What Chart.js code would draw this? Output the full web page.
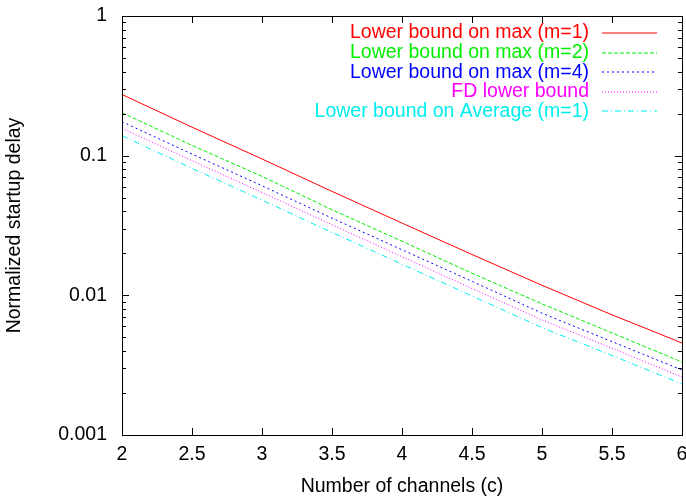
<!DOCTYPE html>
<html>
<head>
<meta charset="utf-8">
<script src="https://cdn.jsdelivr.net/npm/chart.js@4.4.1/dist/chart.umd.min.js"></script>
<style>
    body { margin: 0; background: #fff; }
    canvas { display: block; }
</style>
</head>
<body>
<canvas id="delayChart" width="686" height="498"></canvas>
<script>
// values (log scale)
var channels = [2, 2.5, 3, 3.5, 4, 4.5, 5, 5.5, 6];
var maxM1 = [0.274, 0.160, 0.0947, 0.0555, 0.0329, 0.0196, 0.0118, 0.00725, 0.00456];
var maxM2 = [0.203, 0.1185, 0.0711, 0.0410, 0.0244, 0.0144, 0.00869, 0.00538, 0.00333];
var maxM4 = [0.175, 0.1027, 0.0609, 0.0357, 0.0212, 0.0126, 0.00745, 0.00466, 0.00292];
var fdBound = [0.157, 0.0921, 0.0545, 0.0320, 0.0189, 0.0112, 0.00667, 0.00418, 0.00260];
var avgM1 = [0.139, 0.0811, 0.0481, 0.0282, 0.0167, 0.0099, 0.00587, 0.00371, 0.00232];

var seriesNames = [
    'Lower bound on max (m=1)',
    'Lower bound on max (m=2)',
    'Lower bound on max (m=4)',
    'FD lower bound',
    'Lower bound on Average (m=1)'
];
var seriesColors = ['#ff0000', '#00ee00', '#0000ff', '#ff00ff', '#00eeee'];
var seriesDashes = [[], [4, 2], [2, 3], [1, 2], [6, 3, 1, 3]];
var yTickValues = [0.001, 0.01, 0.1, 1];

var FONT = { family: '"Liberation Sans", Arial, sans-serif', size: 19.5 };

function toPoints(values) {
    return values.map(function (v, i) { return { x: channels[i], y: v }; });
}

var allSeries = [maxM1, maxM2, maxM4, fdBound, avgM1];
var datasets = allSeries.map(function (values, i) {
    return {
        label: seriesNames[i],
        data: toPoints(values),
        borderColor: seriesColors[i],
        backgroundColor: seriesColors[i],
        borderDash: seriesDashes[i],
        borderWidth: 1,
        pointRadius: 0,
        tension: 0,
        fill: false
    };
});

// gnuplot-like frame with inward ticks, and legend with text left of the sample line
var framePlugin = {
    id: 'frame',
    afterDraw: function (chart) {
        var ctx = chart.ctx;
        var area = chart.chartArea;
        var xs = chart.scales.x;
        var ys = chart.scales.y;
        ctx.save();
        ctx.strokeStyle = '#000';
        ctx.lineWidth = 1;
        ctx.setLineDash([]);
        ctx.strokeRect(Math.round(area.left) + 0.5, Math.round(area.top) + 0.5,
            Math.round(area.right - area.left), Math.round(area.bottom - area.top));

        ctx.beginPath();
        for (var c = 2; c <= 6; c += 0.5) {
            var px = Math.round(xs.getPixelForValue(c)) + 0.5;
            ctx.moveTo(px, area.bottom);
            ctx.lineTo(px, area.bottom - 7);
            ctx.moveTo(px, area.top);
            ctx.lineTo(px, area.top + 7);
        }
        for (var e = -3; e <= 0; e++) {
            for (var m = 1; m <= 9; m++) {
                var v = m * Math.pow(10, e);
                if (v > 1) break;
                var py = Math.round(ys.getPixelForValue(v)) + 0.5;
                var len = m === 1 ? 7 : 4;
                ctx.moveTo(area.left, py);
                ctx.lineTo(area.left + len, py);
                ctx.moveTo(area.right, py);
                ctx.lineTo(area.right - len, py);
            }
        }
        ctx.stroke();

        // legend
        ctx.font = FONT.size + 'px ' + FONT.family;
        ctx.textAlign = 'right';
        ctx.textBaseline = 'middle';
        chart.data.datasets.forEach(function (ds, i) {
            var y = 33 + i * 19.6;
            ctx.fillStyle = ds.borderColor;
            ctx.fillText(ds.label, 589, y);
            ctx.strokeStyle = ds.borderColor;
            ctx.lineWidth = 1.2;
            ctx.setLineDash(ds.borderDash);
            ctx.beginPath();
            ctx.moveTo(602, Math.round(y));
            ctx.lineTo(657, Math.round(y));
            ctx.stroke();
        });
        ctx.restore();
    }
};

var ctx = document.getElementById('delayChart').getContext('2d');
new Chart(ctx, {
    type: 'line',
    data: { datasets: datasets },
    options: {
        responsive: false,
        animation: false,
        layout: { padding: { top: 16, right: 4, left: 0, bottom: 0 } },
        plugins: {
            legend: { display: false },
            tooltip: { enabled: false }
        },
        scales: {
            x: {
                type: 'linear',
                min: 2,
                max: 6,
                grid: { display: false, drawTicks: false },
                border: { display: false },
                ticks: {
                    stepSize: 0.5,
                    color: '#000',
                    font: FONT,
                    padding: 8,
                    maxRotation: 0,
                    callback: function (v) { return String(v); }
                },
                title: {
                    display: true,
                    text: 'Number of channels (c)',
                    color: '#000',
                    font: FONT,
                    padding: { top: 2.5, bottom: 0 }
                },
                afterFit: function (scale) {
                    scale.height = 63;
                    scale.paddingLeft = 0;
                    scale.paddingRight = 0;
                }
            },
            y: {
                type: 'logarithmic',
                min: 0.001,
                max: 1,
                grid: { display: false, drawTicks: false },
                border: { display: false },
                afterBuildTicks: function (scale) {
                    scale.ticks = yTickValues.map(function (v) { return { value: v }; });
                },
                ticks: {
                    autoSkip: false,
                    color: '#000',
                    font: FONT,
                    padding: 15,
                    callback: function (v) { return String(v); }
                },
                title: {
                    display: true,
                    text: 'Normalized startup delay',
                    color: '#000',
                    font: FONT,
                    padding: { top: 3, bottom: 0 }
                },
                afterFit: function (scale) {
                    scale.width = 122;
                    scale.paddingTop = 0;
                    scale.paddingBottom = 0;
                }
            }
        }
    },
    plugins: [framePlugin]
});
</script>
</body>
</html>
